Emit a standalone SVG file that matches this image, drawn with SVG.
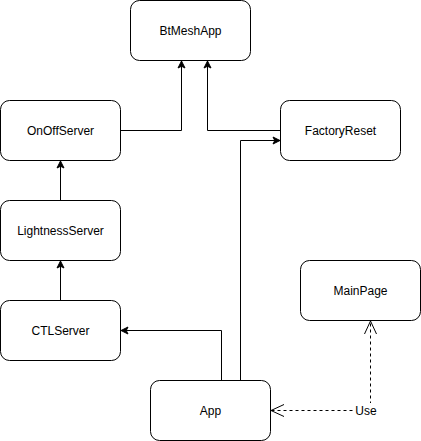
<svg xmlns="http://www.w3.org/2000/svg" width="421" height="441" viewBox="0 0 421 441">
<style>
.box{fill:#fff;stroke:#000;stroke-width:1}
.lbl{font-family:"Liberation Sans",Arial,sans-serif;font-size:12px;fill:#000;text-anchor:middle;dominant-baseline:central}
.edge{fill:none;stroke:#000;stroke-width:1}
.dash{stroke-dasharray:3,3}
</style>
<defs>
<marker id="arr" markerUnits="userSpaceOnUse" markerWidth="10" markerHeight="10" refX="8" refY="4" orient="auto" overflow="visible">
<path d="M1,0.5 L8,4 L1,7.5 L2.75,4 Z" fill="#000" stroke="#000" stroke-width="1"/>
</marker>
<marker id="open" markerUnits="userSpaceOnUse" markerWidth="14" markerHeight="14" refX="13" refY="6" orient="auto-start-reverse" overflow="visible">
<path d="M0,0 L13,6 L0,12" fill="none" stroke="#000" stroke-width="1"/>
</marker>
</defs>
<rect width="421" height="441" fill="#fff"/>
<g id="connectors">
<path class="edge" d="M120.5,130.5 H181.5 V61" marker-end="url(#arr)"/>
<path class="edge" d="M280.5,130.5 H207.5 V61" marker-end="url(#arr)"/>
<path class="edge" d="M60.5,200.5 V161" marker-end="url(#arr)"/>
<path class="edge" d="M60.5,300.5 V261" marker-end="url(#arr)"/>
<path class="edge" d="M221.5,380.5 V330.5 H121" marker-end="url(#arr)"/>
<path class="edge" d="M240.5,380.5 V140.5 H280" marker-end="url(#arr)"/>
<path class="edge dash" d="M370.5,410.5 V321" marker-end="url(#open)"/>
<path class="edge dash" d="M370.5,410.5 H271" marker-end="url(#open)"/>
<rect x="355" y="403" width="22" height="15" fill="#fff"/>
<text class="lbl" x="366" y="410.5">Use</text>
</g>
<g id="BtMeshApp"><rect class="box" x="130.5" y="0.5" width="120" height="60" rx="9"/><text class="lbl" x="190.5" y="30.5">BtMeshApp</text></g>
<g id="OnOffServer"><rect class="box" x="0.5" y="100.5" width="120" height="60" rx="9"/><text class="lbl" x="60.5" y="130.5">OnOffServer</text></g>
<g id="FactoryReset"><rect class="box" x="280.5" y="100.5" width="120" height="60" rx="9"/><text class="lbl" x="340.5" y="130.5">FactoryReset</text></g>
<g id="LightnessServer"><rect class="box" x="0.5" y="200.5" width="120" height="60" rx="9"/><text class="lbl" x="60.5" y="230.5">LightnessServer</text></g>
<g id="CTLServer"><rect class="box" x="0.5" y="300.5" width="120" height="60" rx="9"/><text class="lbl" x="60.5" y="330.5">CTLServer</text></g>
<g id="MainPage"><rect class="box" x="300.5" y="260.5" width="120" height="60" rx="9"/><text class="lbl" x="360.5" y="290.5">MainPage</text></g>
<g id="App"><rect class="box" x="150.5" y="380.5" width="120" height="60" rx="9"/><text class="lbl" x="210.5" y="410.5">App</text></g>
</svg>
